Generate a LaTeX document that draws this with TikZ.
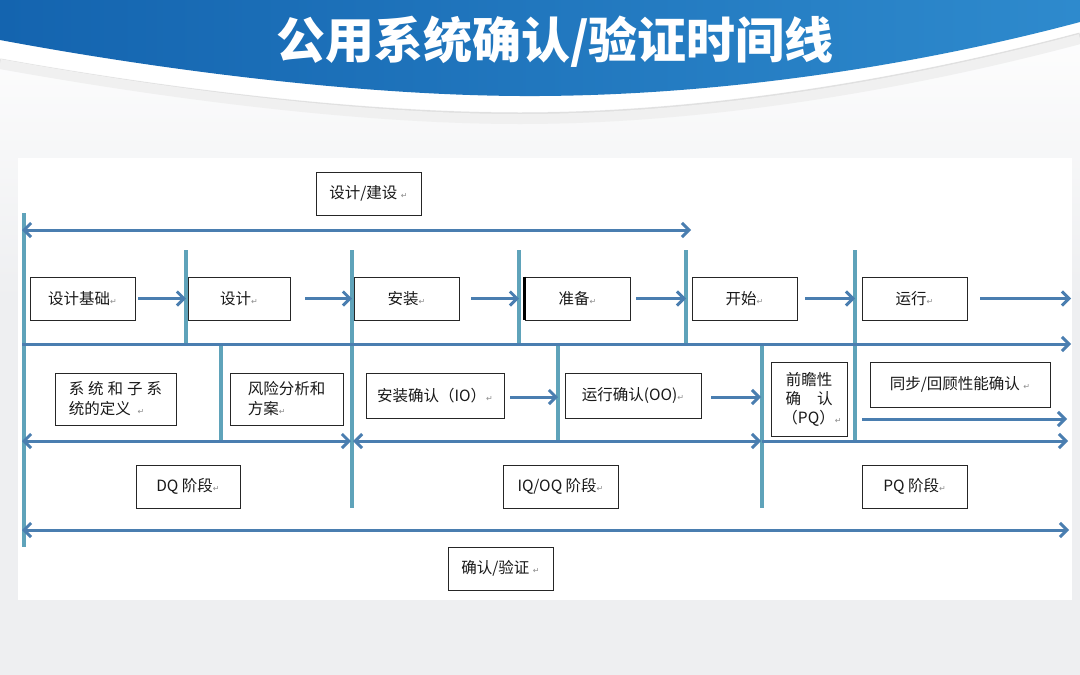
\documentclass[tikz,border=0pt]{standalone}
\usepackage{fontspec}
\setmainfont{Noto Sans CJK SC}
\newfontfamily\dejavu{DejaVu Sans}
\usetikzlibrary{arrows.meta,calc}
\definecolor{hblue}{RGB}{74,126,176}
\definecolor{vteal}{RGB}{95,163,186}
\definecolor{bannerA}{RGB}{20,100,175}
\definecolor{bannerB}{RGB}{46,138,205}
\definecolor{bggray}{RGB}{238,239,241}
\newcommand\retmark{{\dejavu\fontsize{8}{8}\selectfont\color{black!45}↵}}
\tikzset{
  box/.style={draw=black!85, line width=0.9pt, fill=white, font=\fontsize{15.5}{20}\selectfont, text=black!90, inner sep=2pt},
  hln/.style={draw=hblue, line width=3pt},
  vln/.style={draw=vteal, line width=3.5pt},
  arr/.style={hln, -{Straight Barb[length=7pt,width=14pt]}},
  darr/.style={hln, {Straight Barb[length=7pt,width=14pt]}-{Straight Barb[length=7pt,width=14pt]}},
}
\begin{document}
\begin{tikzpicture}[x=1pt,y=-1pt]
\useasboundingbox (0,0) rectangle (1080,675);
% background
\shade[top color=white, bottom color=bggray] (0,0) rectangle (1080,300);
\fill[bggray] (0,300) rectangle (1080,675);
% banner shadow, white band, blue
\draw[black!12, line width=5pt] (0,61) .. controls (150,88) and (350,115) .. (520,115) .. controls (700,115) and (900,83) .. (1080,35);
\draw[black!6, line width=10pt] (0,64) .. controls (150,91) and (350,119) .. (520,119) .. controls (700,119) and (900,87) .. (1080,39);
\fill[white] (0,0) -- (1080,0) -- (1080,32) .. controls (900,80) and (700,112) .. (520,112) .. controls (350,112) and (150,85) .. (0,58) -- cycle;
\shade[left color=bannerA, right color=bannerB] (0,0) -- (1080,0) -- (1080,22) .. controls (900,70) and (700,97) .. (520,96) .. controls (350,95) and (150,68) .. (0,40) -- cycle;
\node[text=white, font=\fontsize{48}{52}\selectfont\bfseries] (title) at (555,42) {\scalebox{1.02}[1.02]{公用系统确认/验证时间线}};
% panel
\fill[white] (18,158) rectangle (1072,600);

% vertical lines
\coordinate (v0t) at (24,213);  \coordinate (v0b) at (24,547);
\coordinate (v1t) at (186,250); \coordinate (v1b) at (186,344);
\coordinate (v2t) at (352,250); \coordinate (v2b) at (352,508);
\coordinate (v3t) at (519,250); \coordinate (v3b) at (519,344);
\coordinate (v4t) at (686,250); \coordinate (v4b) at (686,344);
\coordinate (v5t) at (855,250); \coordinate (v5b) at (855,441);
\coordinate (w1t) at (221,344); \coordinate (w1b) at (221,441);
\coordinate (w2t) at (558,344); \coordinate (w2b) at (558,441);
\coordinate (w3t) at (762,344); \coordinate (w3b) at (762,508);
\foreach \v in {v0,v1,v2,v3,v4,v5,w1,w2,w3} \draw[vln] (\v t) -- (\v b);

% horizontal lines
\coordinate (h1l) at (22,230);  \coordinate (h1r) at (691,230);
\draw[darr] (h1l) -- (h1r);
\coordinate (h2l) at (22,344);  \coordinate (h2r) at (1071,344);
\draw[arr] (h2l) -- (h2r);
\coordinate (h3a) at (22,441);  \coordinate (h3b) at (351,441);
\coordinate (h3c) at (353,441); \coordinate (h3d) at (761,441);
\coordinate (h3e) at (762,441); \coordinate (h3f) at (1068,441);
\draw[darr] (h3a) -- (h3b);
\draw[darr] (h3c) -- (h3d);
\draw[arr] (h3e) -- (h3f);
\coordinate (h4l) at (862,419); \coordinate (h4r) at (1067,419);
\draw[arr] (h4l) -- (h4r);
\coordinate (h5l) at (22,530);  \coordinate (h5r) at (1069,530);
\draw[darr] (h5l) -- (h5r);

% boxes
\node[box, minimum width=105, minimum height=43] (build) at (368.5,193.5) {设计/建设\ \retmark};

\node[box, minimum width=105, minimum height=43] (r1a) at (82.5,298.5) {设计基础\retmark};
\node[box, minimum width=102, minimum height=43] (r1b) at (239,298.5) {设计\retmark};
\node[box, minimum width=105, minimum height=43] (r1c) at (406.5,298.5) {安装\retmark};
\node[box, minimum width=105, minimum height=43] (r1d) at (577.5,298.5) {准备\retmark};
\draw[black, line width=2.5pt] (r1d.north west) -- (r1d.south west);
\node[box, minimum width=105, minimum height=43] (r1e) at (744.5,298.5) {开始\retmark};
\node[box, minimum width=105, minimum height=43] (r1f) at (914.5,298.5) {运行\retmark};

\node[box, minimum width=121, minimum height=52, align=left] (r2a) at (115.5,399)
  {系\hspace{4pt}统\hspace{4pt}和\hspace{4pt}子\hspace{4pt}系\\统的定义\ \ \retmark};
\node[box, minimum width=113, minimum height=52, align=left] (r2b) at (286.5,399)
  {风险分析和\\方案\retmark};
\node[box, minimum width=138, minimum height=45] (r2c) at (435,395.5) {安装确认（IO）\retmark};
\node[box, minimum width=136, minimum height=45] (r2d) at (633,395.5) {运行确认(OO)\retmark};
\node[box, minimum width=76, minimum height=74, align=center, font=\fontsize{15.5}{19}\selectfont] (r2e) at (809,399)
  {前瞻性\\确\hspace{16pt}认\\\hspace{6pt}（PQ）\retmark};
\node[box, minimum width=180, minimum height=45] (r2f) at (960,384.5) {同步/回顾性能确认\ \retmark};

\node[box, minimum width=104, minimum height=43] (dq) at (188,486.5) {DQ 阶段\retmark};
\node[box, minimum width=115, minimum height=43] (ioq) at (560.5,486.5) {IQ/OQ 阶段\retmark};
\node[box, minimum width=105, minimum height=43] (pq) at (914.5,486.5) {PQ 阶段\retmark};
\node[box, minimum width=105, minimum height=43] (val) at (500.5,568.5) {确认/验证\ \retmark};

% row 1 arrows
\coordinate (a1) at (186,298.5);
\coordinate (a2) at (352,298.5);
\coordinate (a3) at (519,298.5);
\coordinate (a4) at (686,298.5);
\coordinate (a5) at (855,298.5);
\coordinate (a6) at (1071,298.5);
\draw[arr] ([xshift=3pt]r1a.east) -- (a1);
\draw[arr] ([xshift=15pt]r1b.east) -- (a2);
\draw[arr] ([xshift=12pt]r1c.east) -- (a3);
\draw[arr] ([xshift=6pt]r1d.east) -- (a4);
\draw[arr] ([xshift=8pt]r1e.east) -- (a5);
\draw[arr] ([xshift=13pt]r1f.east) -- (a6);
% row 2 arrows
\coordinate (b1) at (558,397);
\coordinate (b2) at (761,397);
\draw[arr] ([xshift=6pt]r2c.east |- b1) -- (b1);
\draw[arr] ([xshift=10pt]r2d.east |- b2) -- (b2);
\end{tikzpicture}
\end{document}
